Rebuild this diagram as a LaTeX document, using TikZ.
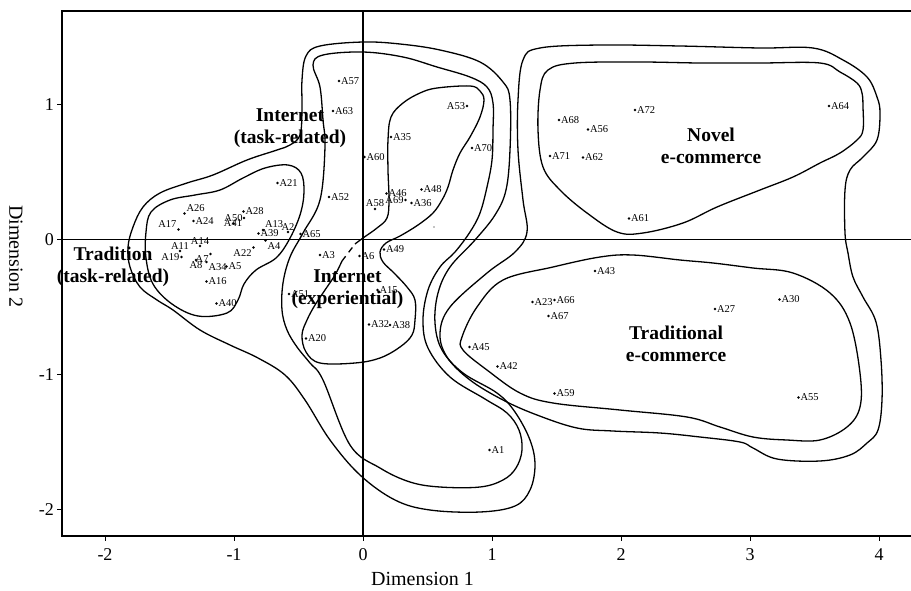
\documentclass[tikz,border=0pt]{standalone}
\usepackage{fontspec}
\setmainfont{Liberation Serif}
\tikzset{
  ptdot/.style={circle, fill=black, inner sep=0pt, minimum size=2.9pt},
  ptlabel/.style={font=\fontsize{10.5}{11}\selectfont, inner sep=1.8pt},
  grouplabel/.style={font=\fontsize{19.5}{22}\selectfont\bfseries, align=center, inner sep=0pt},
  ticklabel/.style={font=\fontsize{18}{20}\selectfont, inner sep=0pt},
  axistitle/.style={font=\fontsize{20}{22}\selectfont, inner sep=0pt},
  contour/.style={line width=1.3pt, line join=round},
  axisline/.style={line width=1.4pt},
}
\begin{document}
\begin{tikzpicture}[x=1pt, y=-1pt]
  \useasboundingbox (0,0) rectangle (911,590);

  % frame and zero lines
  \draw[line width=1.1pt] (911,11) -- (62,11) -- (62,536) -- (911,536);
  \draw[axisline] (62,239.5) -- (911,239.5);
  \draw[axisline] (363,11) -- (363,536);

  % ticks
  \foreach \v in {-2,...,4} {
    \pgfmathsetmacro{\px}{363+129*\v}
    \draw[line width=1pt] (\px,536) -- (\px,541);
    \node[ticklabel, anchor=base] (xt\v) at (\px,560) {\v};
  }
  \foreach \v in {-2,...,1} {
    \pgfmathsetmacro{\py}{239.5-135*\v}
    \draw[line width=1pt] (57,\py) -- (62,\py);
    \node[ticklabel, anchor=east] (yt\v) at (54,\py) {\v};
  }
  \node[axistitle, anchor=base] (dim1) at (422.5,585) {Dimension 1};
  \node[axistitle, rotate=-90] (dim2) at (16,256.5) {Dimension 2};

  % contours
  \draw[contour] plot[smooth cycle, tension=0.6] coordinates {
    (146,232) (151,212) (170,200) (195,195) (220,190) (243,178) (265,168)
    (288,165) (301,173) (304,192) (300,215) (289,240) (276,258) (256,270)
    (244,284) (238,300) (227,313) (198,316) (172,304) (153,284) (146,258)};
  \draw[contour] plot[smooth cycle, tension=0.6] coordinates {
    (277,150) (247,160) (213,175) (187,183) (160,193) (143,207) (133,227)
    (128,247) (130,267) (140,287) (157,300) (173,310) (200,330) (230,345)
    (258,358) (285,375) (305,400) (330,440) (360,475) (395,500) (430,510)
    (480,512) (515,506) (530,490) (535,465) (530,440) (515,412) (497,393)
    (463,373) (442,350) (435,323) (438,293) (450,267) (475,240) (495,215)
    (506,190) (510,150) (510,100) (503,82) (480,62) (440,50) (400,44)
    (363,42) (320,46) (306,56) (302,80) (302,110) (300,135) (290,145)};
  \draw[contour] plot[smooth cycle, tension=0.6] coordinates {
    (313,65) (323,55) (363,52) (403,57) (437,67) (470,77) (487,87)
    (493,103) (493,130) (492,160) (487,187) (480,213) (470,232) (455,252)
    (440,267) (428,290) (423,320) (428,348) (450,377) (485,399) (507,413)
    (519,430) (522,450) (516,468) (503,480) (480,487) (440,487) (410,482)
    (380,468) (350,445) (323,380) (310,363) (297,347) (287,330) (282,310)
    (283,283) (290,257) (303,233) (320,200) (325,147) (323,120) (320,87)};
  \draw[contour] plot[smooth, tension=0.6] coordinates {
    (355,244) (363,238) (377,228) (387,218) (389,200) (388,170) (388,140)
    (391,117) (403,103) (420,93) (437,88) (470,86) (480,91) (484,100)
    (480,117) (470,137) (460,153) (453,170) (448,187) (442,200) (433,213)
    (418,225) (400,236) (386,243) (380,252) (383,262) (394,273) (407,287)
    (415,300) (415,320) (412,335) (400,347) (380,358) (355,363) (320,363)
    (306,352) (302,335) (307,320) (315,305) (325,290) (335,275) (342,261)};
  \draw[contour, dash pattern=on 6pt off 5pt] (342,261) -- (355,244);
  \draw[contour] plot[smooth cycle, tension=0.6] coordinates {
    (523,60) (540,48) (600,45) (680,46) (760,48) (813,48) (843,60)
    (867,77) (877,97) (880,113) (877,140) (863,157) (850,170) (845,190)
    (845,233) (848,253) (853,277) (863,297) (876,322) (881,360) (882,400)
    (878,430) (867,443) (850,455) (820,461) (777,459) (753,448) (740,442)
    (700,437) (660,433) (613,431) (577,428) (537,415) (503,400) (470,380)
    (447,357) (440,333) (450,307) (487,273) (515,252) (527,232) (523,200)
    (518,150) (518,100)};
  \draw[contour] plot[smooth cycle, tension=0.6] coordinates {
    (540,90) (548,70) (575,63) (640,62) (700,63) (760,63) (820,63)
    (840,72) (857,83) (862,93) (863,107) (863,130) (857,140) (840,153)
    (820,163) (793,177) (760,190) (717,207) (683,223) (643,233) (617,232)
    (587,213) (560,190) (543,167) (538,130)};
  \draw[contour] plot[smooth cycle, tension=0.6] coordinates {
    (600,257) (633,255) (680,260) (713,263) (753,268) (793,273) (830,293)
    (850,323) (860,373) (860,407) (847,427) (820,440) (787,440) (753,437)
    (720,427) (687,417) (620,410) (553,403) (520,393) (487,370) (463,350)
    (462,337) (477,307) (503,280) (553,267)};
  \fill (434,227) circle (0.7pt);

  % group labels
  \node[grouplabel] (gtrad) at (113,267) {Tradition\\(task-related)};
  \node[grouplabel] (gitask) at (290,128) {Internet\\(task-related)};
  \node[grouplabel] (giexp) at (347.5,289) {Internet\\(experiential)};
  \node[grouplabel] (gnovel) at (711,145.5) {Novel\\e-commerce};
  \node[grouplabel] (gtrec) at (676,344) {Traditional\\e-commerce};

  % stimuli
  \foreach \n/\x/\y/\a in {
      A57/339/81/west, A63/333/111/west, A35/391/137/west, A60/364.5/157/west,
      A70/472/148/west, A53/467/106/east, A21/277.5/183/west, A52/329/197/west,
      A58/375/209/south, A46/386.5/193.5/west, A69/405.5/200/east,
      A48/421.5/189.5/west, A36/411.5/203/west, A65/300.5/234/west,
      A2/288/232/south, A3/320/255/west, A6/359.5/256/west, A49/384/249.5/west,
      A51/289/294/west, A15/377.5/290/west, A32/369/324.5/west, A38/390/325/west,
      A20/306/338.5/west, A45/469.5/347/west, A42/497.5/366.5/west,
      A72/635/110/west, A64/829/106/west, A68/559/120/west, A56/588/129.5/west,
      A71/550/156/west, A62/583/157.5/west, A61/629/218.5/west,
      A43/595/271/west, A23/532.5/302/west, A66/554.5/300/west,
      A67/548.5/316/west, A27/715/309/west, A30/779.5/299.5/west,
      A59/554.5/393.5/west, A55/798.5/397.5/west, A1/489.5/450/west,
      A26/184.5/213.5/south west, A24/193.5/221/west, A17/178.5/229.5/south east,
      A50/233.5/223.5/south, A28/243.5/211.5/west, A41/244/218/north east,
      A13/263/230/south west, A39/258.5/233.5/west, A4/265.5/240.5/north west,
      A22/253.5/247.5/north east, A5/226.5/266.5/west, A11/180/251/south,
      A14/200/246/south, A19/181.5/257/east, A7/210.5/254/north east,
      A8/196/260/north, A34/206.5/262/north west, A16/206.5/281.5/west,
      A40/216.5/303.5/west} {
    \node[ptdot] (d\n) at (\x,\y) {};
    \node[ptlabel, anchor=\a] (\n) at (d\n) {\n};
  }
\end{tikzpicture}
\end{document}
